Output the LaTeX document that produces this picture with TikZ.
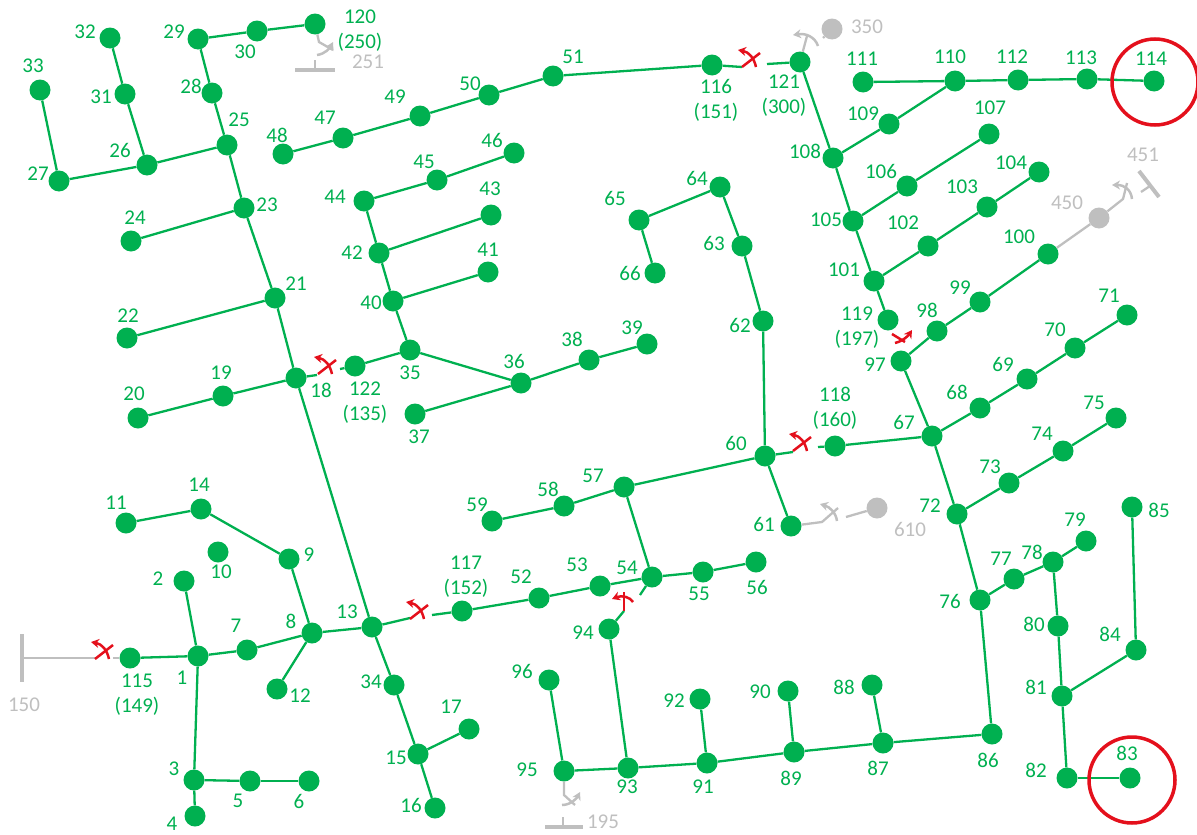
\documentclass[tikz,border=0pt]{standalone}
\usepackage{fontspec}
\setmainfont{Carlito}
\usetikzlibrary{arrows.meta}
\definecolor{busgreen}{HTML}{00B050}
\definecolor{offgrey}{HTML}{BFBFBF}
\definecolor{swred}{HTML}{E4101C}
\tikzset{
    bus/.style = {circle, fill = busgreen, minimum size = 21pt, inner sep = 0pt},
    offbus/.style = {circle, fill = offgrey, minimum size = 21pt, inner sep = 0pt},
    busline/.style = {draw = busgreen, line width = 2.3pt},
    offline/.style = {draw = offgrey, line width = 2.3pt},
    source/.style = {draw = offgrey, line width = 4pt},
    ring/.style = {draw = swred, line width = 3.5pt},
    buslabel/.style = {text = busgreen, align = center, inner sep = 0pt, font = \fontsize{21}{25}\selectfont},
    offlabel/.style = {text = offgrey, align = center, inner sep = 0pt, font = \fontsize{21}{25}\selectfont},
    blade/.style = {line width = 2.5pt},
    swing/.style = {line width = 2.5pt, -{Stealth[length = 8pt, width = 9pt, inset = 2.5pt]}},
    switchmark/.pic = {
        \draw[blade] (-8,8) -- (10,-6);
        \draw[swing] (6,8) .. controls (4,-1) and (-1,-7) .. (-12,-9);
    }
}

\begin{document}
\begin{tikzpicture}[x = 1pt, y = -1pt]
    \useasboundingbox (0,0) rectangle (1197,835);

    % Buses
    \foreach \n/\x/\y in {1/198/656, 2/184/581, 3/194/780, 4/195/816, 5/250/781, 6/309/781, 7/247/650, 8/312/633, 9/289/559, 10/218/552,
        11/126/523, 12/277/689, 13/372/627, 14/201/509, 15/418/754, 16/435/808, 17/469/729, 18/296/378, 19/223/396, 20/138/418,
        21/275/298, 22/127/338, 23/244/208, 24/131/241, 25/227/145, 26/147/165, 27/59/181, 28/212/93, 29/198/39, 30/257/31,
        31/125/94, 32/110/38, 33/40/90, 34/394/685, 35/410/350, 36/521/383, 37/415/414, 38/589/360, 39/647/344, 40/393/301,
        41/488/272, 42/379/253, 43/491/215, 44/364/201, 45/437/180, 46/514/153, 47/343/138, 48/283/154, 49/420/116, 50/489/95,
        51/553/76, 52/539/598, 53/600/586, 54/652/577, 55/703/572, 56/756/562, 57/624/487, 58/564/506, 59/492/521, 60/765/456,
        61/791/526, 62/763/321, 63/742/246, 64/720/187, 65/639/220, 66/655/273, 67/932/436, 68/980/408, 69/1027/379, 70/1075/348,
        71/1127/315, 72/957/514, 73/1009/483, 74/1063/451, 75/1116/418, 76/980/600, 77/1014/579, 78/1053/562, 79/1086/541, 80/1058/626,
        81/1062/696, 82/1067/778, 83/1130/778, 84/1136/650, 85/1132/507, 86/992/734, 87/883/743, 88/872/685, 89/794/752, 90/788/691,
        91/707/763, 92/700/699, 93/628/768, 94/609/629, 95/564/771, 96/549/680, 97/901/361, 98/937/331, 99/980/302, 100/1048/254,
        101/874/281, 102/928/246, 103/987/207, 104/1039/172, 105/853/221, 106/907/186, 107/989/134, 108/833/158, 109/889/124, 110/955/81,
        111/863/82, 112/1018/80, 113/1087/79, 114/1154/81, 115/130/658, 116/712/65, 117/462/611, 118/835/446, 119/888/320, 120/315/24,
        121/800/62, 122/355/366}
        \node[bus] (b\n) at (\x,\y) {};
    \foreach \n/\x/\y in {350/832/29, 450/1099/218, 610/877/508}
        \node[offbus] (b\n) at (\x,\y) {};

    % Free ends at the switches
    \foreach \n/\x/\y in {s13/410/618, s117/432/615, s18/317/375, s122/340/369, s116/742/67, s121/767/64, s60/793/452, s118/818/447,
        s94/624/611, s54/640/595, f150/22/658, s150/96/658, s115/113/658, f120/319/42, f251/315/60, f251b/315/70, f121/807/36,
        f350/823/38, f450/1123/199, f61/822/522, f610/846/517, f195/563/817, f195b/563/827, f195c/564/795, f451/1141/192, f451b/1150/186}
        \coordinate (\n) at (\x,\y);

    % Lines in service
    \foreach \a/\b in {1/2, 1/3, 3/4, 3/5, 5/6, 1/7, 7/8, 8/9, 8/12, 8/13, 9/14, 14/11, 1/115, 13/34, 34/15, 15/16, 15/17, 13/18, 18/19, 19/20,
        18/21, 21/22, 21/23, 23/24, 23/25, 25/26, 26/27, 26/31, 31/32, 25/28, 28/29, 29/30, 30/120, 27/33, 35/122, 35/40, 40/41, 40/42, 42/43, 42/44,
        44/45, 45/46, 35/36, 36/37, 36/38, 38/39, 48/47, 47/49, 49/50, 50/51, 51/116, 117/52, 52/53, 53/54, 54/55, 55/56, 54/57, 57/58, 58/59, 57/60,
        60/61, 60/62, 62/63, 63/64, 64/65, 65/66, 118/67, 67/68, 68/69, 69/70, 70/71, 67/97, 97/98, 98/99, 99/100, 67/72, 72/73, 73/74, 74/75, 72/76,
        76/77, 77/78, 78/79, 78/80, 80/81, 81/82, 82/83, 81/84, 84/85, 76/86, 86/87, 87/88, 87/89, 89/90, 89/91, 91/92, 91/93, 93/94, 93/95, 95/96,
        121/108, 108/105, 105/101, 101/119, 108/109, 109/110, 110/111, 110/112, 112/113, 113/114, 105/106, 106/107, 101/102, 102/103, 103/104}
        \draw[busline] (b\a) -- (b\b);

    % Lines up to the open switches
    \draw[busline] (b13) -- (s13);
    \draw[busline] (b117) -- (s117);
    \draw[busline] (b18) -- (s18);
    \draw[busline] (b122) -- (s122);
    \draw[busline] (b116) -- (s116);
    \draw[busline] (b121) -- (s121);
    \draw[busline] (b60) -- (s60);
    \draw[busline] (b118) -- (s118);
    \draw[busline] (b94) -- (s94);
    \draw[busline] (b54) -- (s54);

    % Lines out of service
    \draw[offline] (f150) -- (s150);
    \draw[offline] (s115) -- (b115);
    \draw[offline] (b120) -- (f120) -- (333,50);
    \draw[offline] (b121) -- (f121);
    \draw[offline] (b350) -- (f350);
    \draw[offline] (b100) -- (b450) -- (f450) -- (1127,183);
    \draw[offline] (b61) -- (f61) -- (838,508);
    \draw[offline] (b610) -- (f610);
    \draw[offline] (b95) -- (f195c) -- (575,805);
    \draw[offline] (f251) -- (f251b);
    \draw[offline] (f195) -- (f195b);
    \draw[offline] (f451) -- (f451b);

    % Source bars
    \draw[source] (22,634) -- (22,682);
    \draw[source] (295,70) -- (335,70);
    \draw[source] (545,827) -- (583,827);
    \draw[source] (1139,171) -- (1159,197);

    % Switches
    \pic[swred] at (103,651) {switchmark};
    \pic[swred] at (326,366) {switchmark};
    \pic[swred] at (418,611) {switchmark};
    \pic[swred] at (750,59) {switchmark};
    \pic[swred] at (801,443) {switchmark};
    \draw[blade, swred] (624,611) -- (624,592);
    \draw[swing, swred] (633,602) .. controls (630,597) and (622,595) .. (612,599);
    \draw[blade, swred] (892,334) -- (905,342);
    \draw[swing, swred] (895,343) .. controls (903,341) and (908,336) .. (912,330);
    \draw[swing, offgrey] (317,55) .. controls (325,54) and (330,48) .. (333,42);
    \draw[swing, offgrey] (562,805) .. controls (571,805) and (577,798) .. (580,792);
    \draw[swing, offgrey] (818,46) .. controls (815,37) and (806,33) .. (793,35);
    \draw[swing, offgrey] (1132,199) .. controls (1131,190) and (1125,185) .. (1112,185);
    \draw[swing, offgrey] (837,521) .. controls (836,513) and (830,507) .. (820,504);

    % Rings
    \draw[ring] (1155,82) circle (43);
    \draw[ring] (1132,780) circle (43);

    % Bus numbers
    \foreach \n/\x/\y in {1/182/678, 2/158/579, 3/174/769, 4/172/824, 5/238/801, 6/299/801, 7/236/626, 8/291/621, 9/309/555, 10/221/572,
        11/116/503, 12/300/696, 13/347/612, 14/199/485, 15/396/758, 16/411/805, 17/451/707, 18/321/390, 19/221/373, 20/134/394,
        21/296/284, 22/128/316, 23/267/205, 24/135/218, 25/239/120, 26/120/150, 27/38/174, 28/191/86, 29/174/32, 30/245/52,
        31/101/97, 32/85/32, 33/33/66, 34/371/682, 35/410/373, 36/514/361, 37/419/437, 38/572/339, 39/632/328, 40/371/303,
        41/488/250, 42/352/253, 43/490/189, 44/335/197, 45/424/162, 46/492/140, 47/325/118, 48/277/135, 49/395/97, 50/470/84,
        51/573/57, 52/521/577, 53/577/565, 54/627/568, 55/699/594, 56/757/587, 57/593/476, 58/548/489, 59/477/505, 60/736/443,
        61/764/524, 62/740/325, 63/714/243, 64/697/178, 65/615/198, 66/630/273, 67/904/422, 68/957/392, 69/1003/364, 70/1055/330,
        71/1109/296, 72/930/506, 73/990/467, 74/1042/434, 75/1094/403, 76/950/601, 77/1001/559, 78/1032/552, 79/1075/520, 80/1034/624,
        81/1036/687, 82/1036/770, 83/1127/753, 84/1110/634, 85/1159/510, 86/988/760, 87/878/768, 88/844/687, 89/791/778, 90/760/692,
        91/703/787, 92/674/701, 93/627/787, 94/583/633, 95/527/770, 96/522/671, 97/875/365, 98/927/310, 99/960/288, 100/1019/237,
        101/844/270, 102/903/223, 103/962/187, 104/1011/163, 105/826/220, 106/881/171, 107/990/108, 108/805/151, 109/863/114, 110/950/57,
        111/862/59, 112/1012/57, 113/1081/58, 114/1151/59}
        \node[buslabel] (l\n) at (\x,\y) {\n};
    \node[buslabel] (l115) at (137,695) {115\\(149)};
    \node[buslabel] (l116) at (716,100) {116\\(151)};
    \node[buslabel] (l117) at (466,577) {117\\(152)};
    \node[buslabel] (l118) at (835,408) {118\\(160)};
    \node[buslabel] (l119) at (857,328) {119\\(197)};
    \node[buslabel] (l120) at (360,31) {120\\(250)};
    \node[buslabel] (l121) at (784,96) {121\\(300)};
    \node[buslabel] (l122) at (365,403) {122\\(135)};

    % Numbers out of service
    \foreach \n/\x/\y in {150/24/705, 251/368/62, 350/867/27, 451/1143/155, 450/1067/203, 610/910/529, 195/603/822}
        \node[offlabel] (l\n) at (\x,\y) {\n};
\end{tikzpicture}
\end{document}
